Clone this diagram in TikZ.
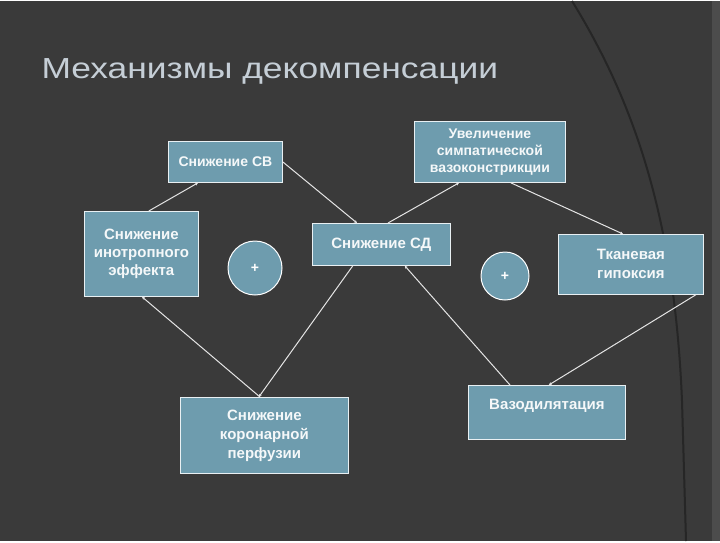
\documentclass[tikz,border=0pt]{standalone}
\usepackage{fontspec}
\setmainfont{Liberation Sans}
\usetikzlibrary{arrows.meta}
\definecolor{bg}{HTML}{3A3A3A}
\definecolor{boxc}{HTML}{6E9CAE}
\definecolor{titlec}{HTML}{C5CED6}
\begin{document}
\begin{tikzpicture}[x=1pt,y=-1pt,
  bx/.style={draw=white!85!boxc,line width=0.8pt,fill=boxc,text=white!93!boxc,font=\bfseries\fontsize{14}{17}\selectfont,align=center,inner sep=0pt,anchor=north west},
  pl/.style={circle,draw=white,line width=1pt,fill=boxc,text=white,font=\bfseries\fontsize{14}{16}\selectfont,inner sep=0pt},
  ar/.style={draw=white!90!black,line width=1pt,-{Stealth[length=3pt,width=3pt]}}]
\fill[bg] (0,0) rectangle (720,540);
\fill[black!70] (712,0) rectangle (720,540);
\draw[black!85,line width=2pt] (572,0) .. controls (640,110) and (675,230) .. (682,400) -- (686,540);
\node[anchor=west,text=titlec,font=\fontsize{29}{32}\selectfont] (title) at (38,70) {\scalebox{1.22}[1]{Механизмы декомпенсации}};
\node[bx,minimum width=114,minimum height=41] (sv) at (168,140) {Снижение СВ};
\node[bx,minimum width=151,minimum height=61] (uv) at (414,120) {Увеличение\\симпатической\\вазоконстрикции};
\node[bx,minimum width=114,minimum height=85,font=\bfseries\fontsize{15}{18}\selectfont] (ino) at (84,210) {Снижение\\инотропного\\эффекта};
\node[pl,minimum size=54] (p1) at (255,267) {+};
\node[bx,minimum width=138,minimum height=42,font=\bfseries\fontsize{15}{18}\selectfont] (sd) at (312,222) {Снижение СД};
\node[pl,minimum size=48] (p2) at (505,275) {+};
\node[bx,minimum width=145,minimum height=60,font=\bfseries\fontsize{15}{19}\selectfont] (tis) at (558,233) {Тканевая\\гипоксия};
\node[bx,minimum width=168,minimum height=76,font=\bfseries\fontsize{15}{19}\selectfont] (cor) at (180,396) {Снижение\\коронарной\\перфузии};
\node[bx,minimum width=157,minimum height=54,font=\bfseries\fontsize{15}{18}\selectfont,text depth=16pt] (vaso) at (468,384) {Вазодилятация};
\draw[ar] ([xshift=-50]ino.north east) -- ([xshift=30]sv.south west);
\draw[ar] (sv.east) -- ([xshift=45]sd.north west);
\draw[ar] ([xshift=76]sd.north west) -- ([xshift=45]uv.south west);
\draw[ar] ([xshift=-55]uv.south east) -- ([xshift=65]tis.north west);
\draw[ar] ([xshift=-8]tis.south east) -- ([xshift=-77]vaso.north east);
\draw[ar] ([xshift=42]vaso.north west) -- ([xshift=-46]sd.south east);
\draw[ar] ([xshift=-98]sd.south east) -- ([xshift=-90]cor.north east);
\draw[ar] ([xshift=80]cor.north west) -- ([xshift=58]ino.south west);
\end{tikzpicture}
\end{document}
